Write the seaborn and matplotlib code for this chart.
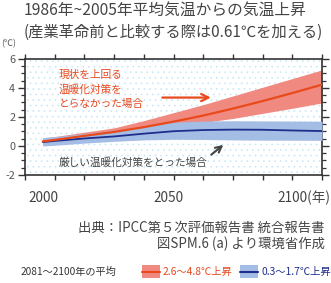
import numpy as np
import pandas as pd
import matplotlib
matplotlib.use("Agg")
import matplotlib.pyplot as plt
from matplotlib.patches import Rectangle
from matplotlib.lines import Line2D
import seaborn as sns

# ---- data ----
years = [2006, 2010, 2020, 2030, 2040, 2050, 2060, 2070, 2080, 2090, 2100]
high_mean = [0.32, 0.42, 0.70, 0.97, 1.30, 1.68, 2.10, 2.58, 3.10, 3.65, 4.23]
high_upper = [0.55, 0.65, 0.95, 1.25, 1.75, 2.30, 2.85, 3.45, 4.05, 4.65, 5.25]
high_lower = [0.05, 0.15, 0.45, 0.70, 0.95, 1.25, 1.62, 1.90, 2.25, 2.60, 2.97]
low_mean = [0.27, 0.35, 0.52, 0.66, 0.85, 1.02, 1.10, 1.13, 1.12, 1.07, 1.03]
low_upper = [0.58, 0.65, 0.85, 1.08, 1.38, 1.64, 1.72, 1.74, 1.73, 1.72, 1.71]
low_lower = [0.00, 0.05, 0.20, 0.32, 0.42, 0.46, 0.45, 0.42, 0.40, 0.40, 0.39]

title_lines = ["1986年~2005年平均気温からの気温上昇",
               "(産業革命前と比較する際は0.61℃を加える)"]
x_labels = ["2000", "2050", "2100(年)"]
y_ticks = [-2, 0, 2, 4, 6]
high_label = "現状を上回る\n温暖化対策を\nとらなかった場合"
low_label = "厳しい温暖化対策をとった場合"
source_lines = ["出典：IPCC第５次評価報告書 統合報告書", "図SPM.6 (a) より環境省作成"]
legend_title = "2081～2100年の平均"
legend_labels = ["2.6～4.8℃上昇", "0.3～1.7℃上昇"]

RED_BAND = "#f08a80"
RED_LINE = "#e84a1c"
RED_TEXT = "#e8471e"
BLUE_BAND = "#a4bde5"
BLUE_LINE = "#1f2d8c"
BLUE_TEXT = "#1f2d8c"
DARK = "#444444"
DOT = "#c2e5f6"

sns.set_theme(style="white")
plt.rcParams["font.family"] = ["Noto Sans CJK JP", "DejaVu Sans"]
plt.rcParams["hatch.linewidth"] = 0.4

W, H = 331, 283
fig = plt.figure(figsize=(W / 100, H / 100), dpi=100)
fig.patch.set_facecolor("white")

def fx(px):
    return px / W

def fy(py):
    return 1 - py / H

ax = fig.add_axes([fx(25), fy(175), (322 - 25) / W, (175 - 59) / H])
ax.set_xlim(2000, 2100)
ax.set_ylim(-2, 6)

# dotted background
bg = Rectangle((0, 0), 1, 1, transform=ax.transAxes, facecolor="white",
               edgecolor=DOT, hatch="...", linewidth=0, zorder=0)
ax.add_patch(bg)

df = pd.DataFrame({
    "year": years * 2,
    "value": high_mean + low_mean,
    "scenario": ["high"] * len(years) + ["low"] * len(years),
})

ax.fill_between(years, high_lower, high_upper, color=RED_BAND, linewidth=0, zorder=2)
ax.fill_between(years, low_lower, low_upper, color=BLUE_BAND, linewidth=0, zorder=3)
sns.lineplot(data=df[df.scenario == "low"], x="year", y="value", color=BLUE_LINE,
             linewidth=1.3, ax=ax, zorder=4, legend=False)
sns.lineplot(data=df[df.scenario == "high"], x="year", y="value", color=RED_LINE,
             linewidth=1.6, ax=ax, zorder=5, legend=False)
ax.set_xlabel("")
ax.set_ylabel("")

# spines and ticks
for s in ax.spines.values():
    s.set_visible(True)
    s.set_color("#333333")
    s.set_linewidth(1.2)
ax.set_xticks(np.arange(2000, 2101, 10))
ax.set_xticklabels([])
ax.set_yticks(y_ticks)
ax.set_yticklabels([str(v) for v in y_ticks])
ax.set_yticks(np.arange(-2, 6.01, 0.5), minor=True)
ax.tick_params(axis="x", which="major", direction="out", length=3.6, width=1.0,
               color="#333333", top=True, bottom=True)
ax.tick_params(axis="y", which="major", direction="out", length=5, width=1.0,
               color="#333333", left=True, right=True, labelsize=7.8,
               labelcolor="#555555", pad=2)
ax.tick_params(axis="y", which="minor", direction="out", length=3, width=0.9,
               color="#333333", left=True, right=True)
ax.grid(False)

# annotations
ax.text(2011.4, 3.89, high_label, color=RED_TEXT, fontsize=7.7, ha="left",
        va="center", linespacing=1.5, zorder=6)
ax.annotate("", xy=(2063.5, 3.34), xytext=(2045.3, 3.34),
            arrowprops=dict(arrowstyle="->", color=RED_LINE, lw=1.6,
                            mutation_scale=13), zorder=6)
ax.text(2011.4, -1.12, low_label, color=DARK, fontsize=7.7, ha="left",
        va="center", zorder=6)
ax.annotate("", xy=(2067.5, 0.2), xytext=(2062.0, -0.72),
            arrowprops=dict(arrowstyle="->", color=DARK, lw=1.5,
                            mutation_scale=11), zorder=6)

# titles
fig.text(fx(24), fy(10), title_lines[0], fontsize=11.3, color=DARK, ha="left", va="center")
fig.text(fx(24), fy(32), title_lines[1], fontsize=11, color=DARK, ha="left", va="center")
fig.text(fx(1), fy(44), "(℃)", fontsize=6.5, color="#555555", ha="left", va="center")

# x labels
fig.text(fx(43), fy(198), x_labels[0], fontsize=9.8, color=DARK, ha="center", va="center")
fig.text(fx(168), fy(198), x_labels[1], fontsize=9.8, color=DARK, ha="center", va="center")
fig.text(fx(277), fy(198), x_labels[2], fontsize=9.8, color=DARK, ha="left", va="center")

# source
fig.text(fx(325), fy(228), source_lines[0], fontsize=9.6, color=DARK, ha="right", va="center")
fig.text(fx(325), fy(244), source_lines[1], fontsize=9.6, color=DARK, ha="right", va="center")

# legend row
fig.text(fx(21), fy(272), legend_title, fontsize=7.3, color="#333333", ha="left", va="center")
for (x0, band, line, tcol, lab) in [(142, RED_BAND, RED_LINE, RED_TEXT, legend_labels[0]),
                                     (240, BLUE_BAND, BLUE_LINE, BLUE_TEXT, legend_labels[1])]:
    fig.add_artist(Rectangle((fx(x0), fy(278)), 18 / W, 13 / H, transform=fig.transFigure,
                             facecolor=band, edgecolor="none"))
    fig.add_artist(Line2D([fx(x0), fx(x0 + 18)], [fy(271.5), fy(271.5)],
                          transform=fig.transFigure, color=line, lw=1.5))
    fig.text(fx(x0 + 21), fy(272), lab, fontsize=7.4, color=tcol, ha="left", va="center")

fig.savefig("out.png", dpi=100, facecolor="white")
